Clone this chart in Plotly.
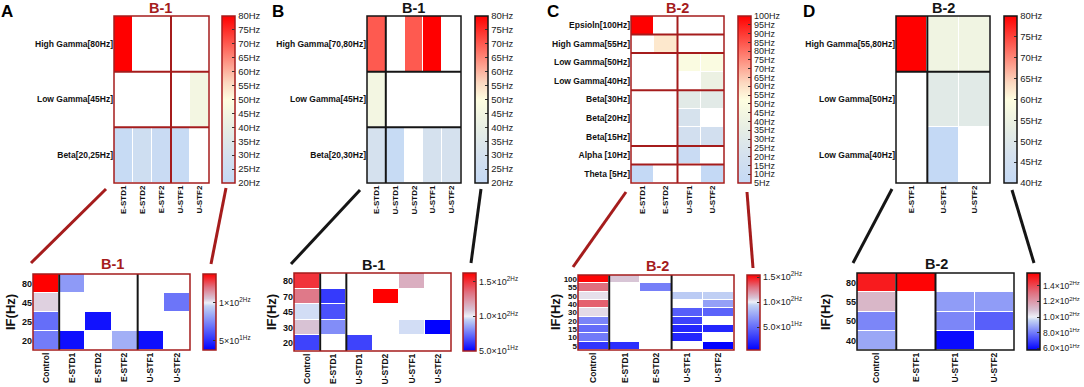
import plotly.graph_objects as go

W, H = 1084, 387
DARK_RED = "#A51C1C"
BLACK = "#151515"
FONT = "Liberation Sans, Arial, sans-serif"

# ---------------- data ----------------
# Panel A
A_top_rows = ["High Gamma[80Hz]", "Low Gamma[45Hz]", "Beta[20,25Hz]"]
A_top_cols = ["E-STD1", "E-STD2", "E-STF2", "U-STF1", "U-STF2"]
A_top_vals = [[80, None, None, None, None],
              [None, None, None, None, 45],
              [22, 26, 23, 22, None]]
A_top_colgroups = [3, 2]
A_top_rowgroups = [1, 1, 1]

A_bot_rows = ["80", "45", "25", "20"]
A_bot_cols = ["Control", "E-STD1", "E-STD2", "E-STF2", "U-STF1", "U-STF2"]
A_bot_vals = [[138, 80, None, None, None, None],
              [104, None, None, None, None, 70],
              [68, None, 43, None, None, None],
              [72, 42, None, 86, 42, None]]
A_bot_colgroups = [1, 3, 2]

# Panel B
B_top_rows = ["High Gamma[70,80Hz]", "Low Gamma[45Hz]", "Beta[20,30Hz]"]
B_top_cols = ["E-STD1", "U-STD1", "U-STD2", "U-STF1", "U-STF2"]
B_top_vals = [[70, None, 70, 80, None],
              [45, None, None, None, None],
              [30, 22, None, 30, 30]]
B_top_colgroups = [1, 4]
B_top_rowgroups = [1, 1, 1]

B_bot_rows = ["80", "70", "45", "30", "20"]
B_bot_cols = ["Control", "E-STD1", "U-STD1", "U-STD2", "U-STF1", "U-STF2"]
B_bot_vals = [[150, None, None, None, 116, None],
              [132, 62, None, 163, None, None],
              [97, 67, None, None, None, None],
              [110, 80, None, None, 97, 50],
              [64, None, 64, None, None, None]]
B_bot_colgroups = [1, 1, 4]

# Panel C
C_top_rows = ["Epsioln[100Hz]", "High Gamma[55Hz]", "Low Gamma[50Hz]", "Low Gamma[40Hz]",
              "Beta[30Hz]", "Beta[20Hz]", "Beta[15Hz]", "Alpha [10Hz]", "Theta [5Hz]"]
C_top_cols = ["E-STD1", "E-STD2", "U-STF1", "U-STF2"]
C_top_vals = [[100, None, None, None],
              [None, 58, None, None],
              [None, None, 50, 50],
              [None, None, None, 40],
              [None, None, 32, 32],
              [None, None, 22, None],
              [None, None, 18, 18],
              [None, None, 10, None],
              [5, None, None, 5]]
C_top_colgroups = [2, 2]
C_top_rowgroups = [1, 1, 2, 3, 1, 1]

C_bot_rows = ["100", "55", "50", "40", "30", "20", "15", "10", "5"]
C_bot_cols = ["Control", "E-STD1", "E-STD2", "U-STF1", "U-STF2"]
C_bot_vals = [[153, 108, None, None, None],
              [130, None, 58, None, None],
              [103, None, None, 90, 92],
              [133, None, None, None, 72],
              [104, None, None, 44, 46],
              [60, None, None, 32, None],
              [50, None, None, 20, 20],
              [56, None, None, 20, None],
              [27, 24, None, None, 5]]
C_bot_colgroups = [1, 2, 2]

# Panel D
D_top_rows = ["High Gamma[55,80Hz]", "Low Gamma[50Hz]", "Low Gamma[40Hz]"]
D_top_cols = ["E-STF1", "U-STF1", "U-STF2"]
D_top_vals = [[80, 56, 56],
              [None, 51, 51],
              [None, 40, None]]
D_top_colgroups = [1, 2]
D_top_rowgroups = [1, 2]

D_bot_rows = ["80", "55", "50", "40"]
D_bot_cols = ["Control", "E-STF1", "U-STF1", "U-STF2"]
D_bot_vals = [[150, 155, None, None],
              [112, None, 86, 86],
              [82, None, 82, 75],
              [88, None, 60, None]]
D_bot_colgroups = [1, 1, 2]

# colorbar ticks
A_top_ticks = list(range(20, 81, 5))
B_top_ticks = list(range(20, 81, 5))
C_top_ticks = list(range(5, 101, 5))
D_top_ticks = list(range(40, 81, 5))
A_bot_ticks = [50, 100]
A_bot_ticktext = ["5×10<sup>1Hz</sup>", "1×10<sup>2Hz</sup>"]
B_bot_ticks = [50, 100, 150]
B_bot_ticktext = ["5.0×10<sup>1Hz</sup>", "1.0×10<sup>2Hz</sup>", "1.5×10<sup>2Hz</sup>"]
C_bot_ticks = [50, 100, 150]
C_bot_ticktext = ["5.0×10<sup>1Hz</sup>", "1.0×10<sup>2Hz</sup>", "1.5×10<sup>2Hz</sup>"]
D_bot_ticks = [60, 80, 100, 120, 140]
D_bot_ticktext = ["6.0×10<sup>1Hz</sup>", "8.0×10<sup>1Hz</sup>", "1.0×10<sup>2Hz</sup>",
                  "1.2×10<sup>2Hz</sup>", "1.4×10<sup>2Hz</sup>"]


# ---------------- helpers ----------------
def px(x):
    return x / W


def py(y):
    return 1 - y / H


TOP_SCALE = [[0, "#c4d9f5"], [0.17, "#d5e1ee"], [0.33, "#e7eee4"], [0.5, "#fefde0"],
             [0.6, "#fcd8c0"], [1, "#ff0000"]]


def bwr(zmin, zmax, white=100):
    m = (white - zmin) / (zmax - zmin)
    return [[0, "#0000ff"], [m - 0.04, "#c4d4f4"], [m, "#eef0f8"],
            [m + (1 - m) * 0.15, "#d8c4d6"], [m + (1 - m) * 0.55, "#e07080"], [1, "#ff0000"]]


fig = go.Figure()
shapes = []
annotations = []
layout_axes = {}

panels = [
    dict(rows=A_top_rows, cols=A_top_cols, vals=A_top_vals, cg=A_top_colgroups, rg=A_top_rowgroups,
         box=(114, 16, 209, 183), cb=222, zr=(20, 80), scale=TOP_SCALE, ticks=A_top_ticks,
         tt=[f"{t}Hz" for t in A_top_ticks], border=DARK_RED, sep=DARK_RED, cbo=DARK_RED, top=True,
         yfs=8.5, cbfs=9.5),
    dict(rows=A_bot_rows, cols=A_bot_cols, vals=A_bot_vals, cg=A_bot_colgroups, rg=None,
         box=(33, 274, 190, 350), cb=203, zr=(38, 138), scale=None, ticks=A_bot_ticks,
         tt=A_bot_ticktext, border=DARK_RED, sep=BLACK, cbo=DARK_RED, top=False,
         yfs=9, cbfs=9),
    dict(rows=B_top_rows, cols=B_top_cols, vals=B_top_vals, cg=B_top_colgroups, rg=B_top_rowgroups,
         box=(367, 16, 461, 183), cb=475, zr=(20, 80), scale=TOP_SCALE, ticks=B_top_ticks,
         tt=[f"{t}Hz" for t in B_top_ticks], border=BLACK, sep=BLACK, cbo=BLACK, top=True,
         yfs=8.5, cbfs=9.5),
    dict(rows=B_bot_rows, cols=B_bot_cols, vals=B_bot_vals, cg=B_bot_colgroups, rg=None,
         box=(294, 273, 451, 351), cb=463, zr=(49.5, 163), scale=None, ticks=B_bot_ticks,
         tt=B_bot_ticktext, border=DARK_RED, sep=BLACK, cbo=DARK_RED, top=False,
         yfs=9, cbfs=9),
    dict(rows=C_top_rows, cols=C_top_cols, vals=C_top_vals, cg=C_top_colgroups, rg=C_top_rowgroups,
         box=(631, 16, 724, 183), cb=738, zr=(5, 100), scale=TOP_SCALE, ticks=C_top_ticks,
         tt=[f"{t}Hz" for t in C_top_ticks], border=DARK_RED, sep=DARK_RED, cbo=DARK_RED, top=True,
         yfs=8.5, cbfs=9),
    dict(rows=C_bot_rows, cols=C_bot_cols, vals=C_bot_vals, cg=C_bot_colgroups, rg=None,
         box=(578, 275, 734, 350), cb=747, zr=(4, 154), scale=None, ticks=C_bot_ticks,
         tt=C_bot_ticktext, border=DARK_RED, sep=BLACK, cbo=DARK_RED, top=False,
         yfs=8, cbfs=9),
    dict(rows=D_top_rows, cols=D_top_cols, vals=D_top_vals, cg=D_top_colgroups, rg=D_top_rowgroups,
         box=(896, 16, 990, 183), cb=1004, zr=(40, 80), scale=TOP_SCALE, ticks=D_top_ticks,
         tt=[f"{t}Hz" for t in D_top_ticks], border=BLACK, sep=BLACK, cbo=BLACK, top=True,
         yfs=8.5, cbfs=9.5),
    dict(rows=D_bot_rows, cols=D_bot_cols, vals=D_bot_vals, cg=D_bot_colgroups, rg=None,
         box=(857, 273, 1014, 350), cb=1027, zr=(58, 156), scale=None, ticks=D_bot_ticks,
         tt=D_bot_ticktext, border=BLACK, sep=BLACK, cbo=BLACK, top=False,
         yfs=9, cbfs=8.5),
]

for i, p in enumerate(panels, start=1):
    xa = "x" if i == 1 else f"x{i}"
    ya = "y" if i == 1 else f"y{i}"
    xkey = "xaxis" if i == 1 else f"xaxis{i}"
    ykey = "yaxis" if i == 1 else f"yaxis{i}"
    x0, y0, x1, y1 = p["box"]
    nr, nc = len(p["rows"]), len(p["cols"])
    zmin, zmax = p["zr"]
    scale = p["scale"] if p["scale"] is not None else bwr(zmin, zmax)
    fig.add_trace(go.Heatmap(
        z=p["vals"], x=list(range(nc)), y=list(range(nr)),
        xaxis=xa, yaxis=ya, zmin=zmin, zmax=zmax, colorscale=scale,
        xgap=1, ygap=1, hoverongaps=False,
        colorbar=dict(
            x=px(p["cb"]), xanchor="left", xref="paper", xpad=0,
            y=py(y0), yanchor="top", yref="paper", ypad=0,
            len=(y1 - y0) / H, lenmode="fraction",
            thickness=13, thicknessmode="pixels",
            outlinecolor=p["cbo"], outlinewidth=1.5,
            tickvals=p["ticks"], ticktext=p["tt"],
            ticks="inside", ticklen=3, tickcolor="#333", tickwidth=1,
            tickfont=dict(family=FONT, size=p["cbfs"], color="#222"),
        ),
    ))
    layout_axes[xkey] = dict(
        domain=[px(x0), px(x1)], anchor=ya, range=[-0.5, nc - 0.5],
        tickvals=list(range(nc)), ticktext=p["cols"], tickangle=-90,
        tickfont=dict(family=FONT, size=8 if p["top"] else 8.5, color="#111", weight="bold"),
        showgrid=False, zeroline=False, showline=False, ticks="",
    )
    layout_axes[ykey] = dict(
        domain=[py(y1), py(y0)], anchor=xa, range=[nr - 0.5, -0.5],
        tickvals=list(range(nr)), ticktext=p["rows"],
        tickfont=dict(family=FONT, size=p["yfs"], color="#111", weight="bold"),
        showgrid=False, zeroline=False, showline=False, ticks="",
    )
    # column separators
    pos = 0
    for g in p["cg"][:-1]:
        pos += g
        shapes.append(dict(type="line", xref=xa, yref=f"{ya} domain", x0=pos - 0.5, x1=pos - 0.5,
                           y0=0, y1=1, line=dict(color=p["sep"], width=2)))
    # row separators
    if p["rg"]:
        pos = 0
        for g in p["rg"][:-1]:
            pos += g
            shapes.append(dict(type="line", xref=f"{xa} domain", yref=ya, x0=0, x1=1,
                               y0=pos - 0.5, y1=pos - 0.5, line=dict(color=p["sep"], width=2)))
    # border
    shapes.append(dict(type="rect", xref=f"{xa} domain", yref=f"{ya} domain", x0=0, x1=1, y0=0, y1=1,
                       line=dict(color=p["border"], width=1.5), fillcolor="rgba(0,0,0,0)"))

# titles
titles = [("B-1", 161, 8, DARK_RED), ("B-1", 413, 8, BLACK), ("B-2", 677, 8, DARK_RED), ("B-2", 943, 8, BLACK),
          ("B-1", 112, 264, DARK_RED), ("B-1", 373, 265, BLACK), ("B-2", 657, 266, DARK_RED), ("B-2", 936, 264, BLACK)]
for t, x, y, c in titles:
    annotations.append(dict(text=f"<b>{t}</b>", x=px(x), y=py(y), xref="paper", yref="paper",
                            showarrow=False, font=dict(family=FONT, size=14.5, color=c),
                            xanchor="center", yanchor="middle"))

# panel letters
for t, x in [("A", 7), ("B", 278), ("C", 553), ("D", 809)]:
    annotations.append(dict(text=f"<b>{t}</b>", x=px(x), y=1, xref="paper", yref="paper",
                            showarrow=False, font=dict(family=FONT, size=17, color="#000"),
                            xanchor="center", yanchor="top"))

# IF(Hz) labels
for x, y in [(10, 312), (271, 312), (555, 312), (825, 312)]:
    annotations.append(dict(text="<b>IF(Hz)</b>", x=px(x), y=py(y), xref="paper", yref="paper",
                            showarrow=False, textangle=-90, font=dict(family=FONT, size=13, color="#111"),
                            xanchor="center", yanchor="middle"))

# zoom connector lines
connectors = [((106, 189), (31, 263), DARK_RED), ((226, 188), (211, 264), DARK_RED),
              ((360, 190), (291, 264), BLACK), ((481, 189), (471, 263), BLACK),
              ((626, 192), (573, 267), DARK_RED), ((747, 192), (753, 268), DARK_RED),
              ((892, 189), (853, 263), BLACK), ((1012, 190), (1034, 263), BLACK)]
for (xa0, ya0), (xa1, ya1), c in connectors:
    shapes.append(dict(type="line", xref="paper", yref="paper", x0=px(xa0), y0=py(ya0),
                       x1=px(xa1), y1=py(ya1), line=dict(color=c, width=3)))

fig.update_layout(
    width=W, height=H, autosize=False,
    margin=dict(l=0, r=0, t=0, b=0),
    paper_bgcolor="white", plot_bgcolor="white",
    font=dict(family=FONT, color="#111"),
    shapes=shapes, annotations=annotations, showlegend=False,
    **layout_axes,
)

fig.write_html("out.html", config={"displayModeBar": False},
               post_script="document.body.style.margin='0';document.body.style.overflow='hidden';")
